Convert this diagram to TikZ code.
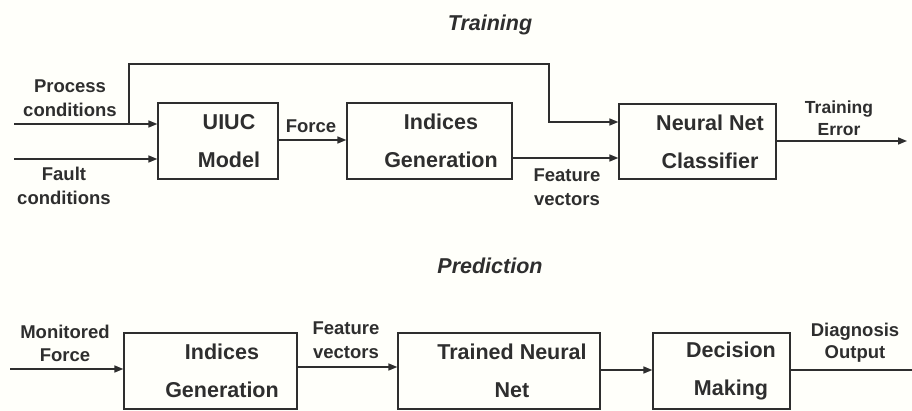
\documentclass[tikz,border=0pt]{standalone}
\usepackage{fontspec}
\setmainfont{Liberation Sans}
\usetikzlibrary{arrows.meta}
\definecolor{ink}{HTML}{2E2E2E}
\tikzset{
  box/.style={draw=ink, line width=1.3pt, minimum width=#1, inner sep=0pt},
  boxtxt/.style={text=ink, align=center, font=\fontsize{21.5}{38}\selectfont\bfseries},
  lbl/.style={text=ink, align=center, font=\fontsize{18.5}{23.5}\selectfont\bfseries},
  ttl/.style={text=ink, font=\fontsize{21.5}{25}\selectfont\bfseries\itshape},
  conn/.style={draw=ink, line width=1.6pt},
  arr/.style={conn, -{Triangle[length=9pt,width=7pt]}},
}
\begin{document}
\begin{tikzpicture}[x=1pt,y=-1pt]
\useasboundingbox (0,0) rectangle (912,411);
\fill[white!97!yellow!60!white] (0,0) rectangle (912,411);
% titles
\node[ttl] (t1) at (490,25) {Training};
\node[ttl] (t2) at (490,266) {Prediction};
% training boxes
\node[box=120pt, minimum height=76pt] (uiuc) at (218,141) {};
\node[boxtxt] (uiuct) at (229,141) {UIUC\\Model};
\node[box=165pt, minimum height=76pt] (ind1) at (429.5,141) {};
\node[boxtxt] (ind1t) at (441,141) {Indices\\Generation};
\node[box=157pt, minimum height=75pt] (nnc) at (697.5,141.5) {};
\node[boxtxt] (nnct) at (710,141.5) {Neural Net\\Classifier};
% training coordinates
\coordinate (pc0) at (14,124);
\coordinate (fc0) at (14,159);
\coordinate (te1) at (907,141);
\coordinate (br) at (129,124);
% training labels
\node[lbl] (lpc) at (70,98) {Process\\conditions};
\node[lbl] (lfc) at (64,186) {Fault\\conditions};
\node[lbl] (lforce) at (311,126) {Force};
\node[lbl] (lfv) at (567,187) {Feature\\vectors};
\node[lbl, font=\fontsize{17.5}{22.5}\selectfont\bfseries] (lte) at (839,118) {Training\\Error};
% training connectors
\draw[arr] (pc0) -- (pc0 -| uiuc.west);
\draw[arr] (fc0) -- (fc0 -| uiuc.west);
\draw[arr] (uiuc.east |- 0,140) -- (ind1.west |- 0,140);
\draw[arr] (ind1.east |- 0,158) -- (nnc.west |- 0,158);
\draw[conn, -{Triangle[length=9pt,width=7pt]}] (br) -- (129,64) -- (549,64) -- (549,122) -- (nnc.west |- 0,122);
\draw[arr] (nnc.east |- te1) -- (te1);
% prediction boxes
\node[box=173pt, minimum height=76pt] (ind2) at (210.5,371) {};
\node[boxtxt] (ind2t) at (222,371) {Indices\\Generation};
\node[box=202pt, minimum height=76pt] (tnn) at (499,371) {};
\node[boxtxt] (tnnt) at (512,371) {Trained Neural\\Net};
\node[box=137pt, minimum height=76pt] (dm) at (721.5,371) {};
\node[boxtxt] (dmt) at (731,371) {Decision\\Making};
\coordinate (mf0) at (10,369);
\coordinate (do1) at (912,370);
% prediction labels
\node[lbl] (lmf) at (65,343.5) {Monitored\\Force};
\node[lbl] (lfv2) at (346,340) {Feature\\vectors};
\node[lbl] (ldo) at (855,342.5) {Diagnosis\\[-2pt]Output};
% prediction connectors
\draw[arr] (mf0) -- (mf0 -| ind2.west);
\draw[arr] (ind2.east |- 0,367) -- (tnn.west |- 0,367);
\draw[arr] (tnn.east |- 0,370) -- (dm.west |- 0,370);
\draw[conn] (dm.east |- do1) -- (do1);
\end{tikzpicture}
\end{document}
